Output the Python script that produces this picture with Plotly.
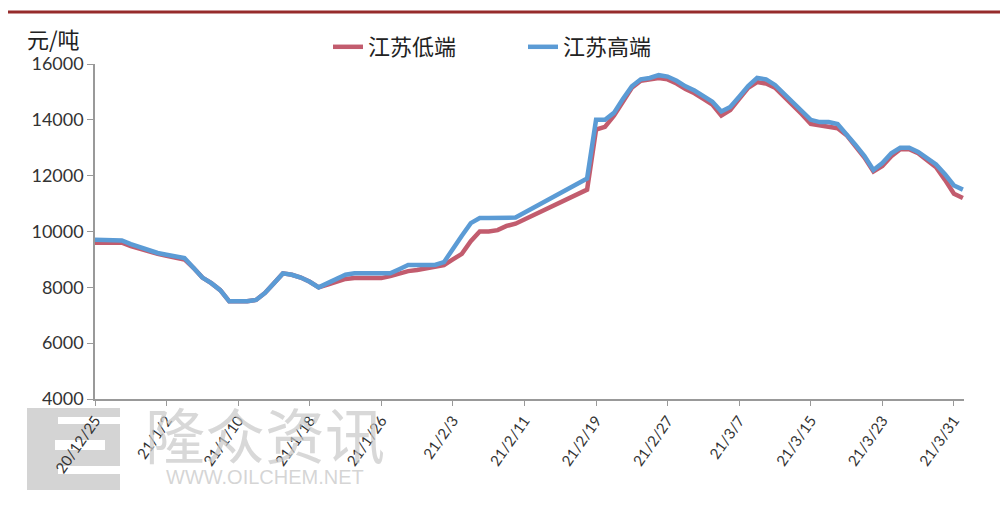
import pandas as pd
import plotly.graph_objects as go

# ---------------- data ----------------
dates_a = pd.date_range("2020-12-25", "2021-02-10", freq="D")
dates_b = pd.date_range("2021-02-18", "2021-04-01", freq="D")
dates = list(dates_a) + list(dates_b)

low_a = [9600, 9600, 9600, 9600, 9480, 9380, 9280, 9200, 9130, 9070, 9000, 8700,
         8350, 8150, 7900, 7500, 7500, 7500, 7550, 7800, 8150, 8500, 8450, 8350,
         8200, 8000, 8100, 8200, 8300, 8330, 8330, 8330, 8330, 8400, 8500, 8580,
         8620, 8680, 8730, 8800, 9000, 9200, 9650, 10000, 10000, 10050, 10200, 10280]
low_b = [11500, 13650, 13750, 14150, 14650, 15150, 15400, 15450, 15500, 15450, 15300,
         15100, 14950, 14750, 14550, 14150, 14350, 14750, 15150, 15350, 15300, 15150,
         14850, 14550, 14200, 13850, 13800, 13780, 13700, 13450, 13050, 12650, 12150,
         12350, 12700, 12950, 12950, 12800, 12550, 12300, 11850, 11350, 11200]

high_a = [9700, 9700, 9700, 9680, 9550, 9450, 9320, 9230, 9170, 9100, 9050, 8700,
          8350, 8150, 7900, 7500, 7500, 7500, 7550, 7800, 8150, 8500, 8450, 8350,
          8200, 8000, 8150, 8300, 8450, 8500, 8500, 8500, 8500, 8500, 8650, 8800,
          8800, 8800, 8800, 8900, 9400, 9850, 10300, 10480, 10480, 10480, 10480, 10500]
high_b = [11900, 14000, 14000, 14250, 14750, 15200, 15450, 15500, 15600, 15550, 15400,
          15200, 15050, 14850, 14650, 14300, 14460, 14830, 15210, 15500, 15450, 15250,
          14950, 14650, 14300, 14000, 13920, 13920, 13850, 13500, 13100, 12700, 12200,
          12450, 12800, 13000, 13000, 12850, 12600, 12400, 12050, 11650, 11500]

low = low_a + low_b
high = high_a + high_b

tick_dates = ["2020-12-25", "2021-01-02", "2021-01-10", "2021-01-18", "2021-01-26",
              "2021-02-03", "2021-02-11", "2021-02-19", "2021-02-27", "2021-03-07",
              "2021-03-15", "2021-03-23", "2021-03-31"]
tick_labels = ["20/12/25", "21/1/2", "21/1/10", "21/1/18", "21/1/26", "21/2/3",
               "21/2/11", "21/2/19", "21/2/27", "21/3/7", "21/3/15", "21/3/23", "21/3/31"]

y_ticks = [4000, 6000, 8000, 10000, 12000, 14000, 16000]
y_labels = ["4000", "6000", "8000", "10000", "12000", "14000", "16000"]

# ---------------- figure ----------------
OFF = 8                      # page body margin
W, H = 1008 - OFF, 507 - OFF
L, R, T, B = 95 - OFF, 44, 64 - OFF, 108
PW, PH = W - L - R, H - T - B


def px(xp):                  # window x -> paper fraction
    return (xp - OFF - L) / PW


def py(yp):                  # window y -> paper fraction
    return 1 - (yp - OFF - T) / PH


fig = go.Figure()
fig.add_trace(go.Scatter(x=dates, y=low, mode="lines", name="江苏低端",
                         line=dict(color="#C25C6E", width=4.5)))
fig.add_trace(go.Scatter(x=dates, y=high, mode="lines", name="江苏高端",
                         line=dict(color="#5B9BD5", width=4.5)))

cjk = "Noto Sans CJK SC"
num_font = "Lato, Noto Sans CJK SC, sans-serif"

fig.update_layout(
    width=W, height=H,
    margin=dict(l=L, r=R, t=T, b=B, autoexpand=False),
    paper_bgcolor="white", plot_bgcolor="white",
    showlegend=True,
    legend=dict(orientation="h", xref="container", yref="container",
                x=(523 - OFF) / W, xanchor="center", y=1 - (47 - OFF) / H, yanchor="middle",
                font=dict(family=cjk, size=22, color="#222"),
                bgcolor="rgba(0,0,0,0)", entrywidth=150),
    xaxis=dict(type="date",
               range=["2020-12-25", "2021-04-01 03:00"],
               tickvals=tick_dates, ticktext=tick_labels,
               tickangle=-55, ticks="outside", ticklen=5, tickcolor="#999",
               showline=True, linecolor="#999", linewidth=1.5,
               showgrid=False, zeroline=False,
               tickfont=dict(family=num_font, size=15, color="#333")),
    yaxis=dict(range=[4000, 16000], tickvals=y_ticks, ticktext=y_labels,
               ticks="outside", ticklen=6, tickcolor="#999",
               showline=True, linecolor="#999", linewidth=1.5,
               showgrid=False, zeroline=False,
               tickfont=dict(family=num_font, size=18, color="#333")),
)

# unit label
fig.add_annotation(text="元/吨", xref="paper", yref="paper",
                   x=px(53), y=py(38), xanchor="center", yanchor="middle",
                   showarrow=False, font=dict(family=cjk, size=22, color="#222"))

# top dark red rule
fig.add_shape(type="line", xref="paper", yref="paper",
              x0=px(7), x1=px(1008), y0=py(12), y1=py(12),
              line=dict(color="#962B2B", width=3))

# watermark (logo block + text)
fig.add_shape(type="rect", xref="paper", yref="paper", layer="below",
              x0=px(27), x1=px(120), y0=py(490), y1=py(408),
              fillcolor="#D4D4D4", line=dict(width=0))
fig.add_shape(type="rect", xref="paper", yref="paper", layer="below",
              x0=px(58), x1=px(120), y0=py(424), y1=py(417),
              fillcolor="white", line=dict(width=0))
fig.add_shape(type="rect", xref="paper", yref="paper", layer="below",
              x0=px(55), x1=px(105), y0=py(450), y1=py(440),
              fillcolor="white", line=dict(width=0))
fig.add_shape(type="rect", xref="paper", yref="paper", layer="below",
              x0=px(58), x1=px(120), y0=py(474), y1=py(466),
              fillcolor="white", line=dict(width=0))
fig.add_annotation(text="隆众资讯", xref="paper", yref="paper",
                   x=px(265), y=py(432), xanchor="center", yanchor="middle",
                   showarrow=False,
                   font=dict(family=cjk, size=60, color="rgba(200,200,200,0.7)"))
fig.add_annotation(text="WWW.OILCHEM.NET", xref="paper", yref="paper",
                   x=px(265), y=py(477), xanchor="center", yanchor="middle",
                   showarrow=False,
                   font=dict(family="Liberation Sans", size=20, color="rgba(200,200,200,0.75)"))

fig.write_html("out.html")
